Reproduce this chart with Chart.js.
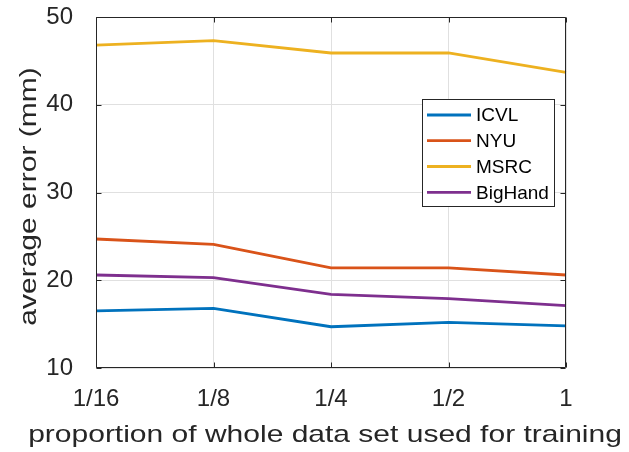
<!DOCTYPE html>
<html>
<head>
<meta charset="utf-8">
<script src="https://cdn.jsdelivr.net/npm/chart.js@4.4.1/dist/chart.umd.min.js"></script>
<style>
  html, body { margin: 0; padding: 0; background: #ffffff; }
  #c { display: block; }
</style>
</head>
<body>
<canvas id="c" width="629" height="452"></canvas>
<script>
// ---- data ----
const categories = ['1/16', '1/8', '1/4', '1/2', '1'];
const seriesNames = ['ICVL', 'NYU', 'MSRC', 'BigHand'];
const icvl    = [16.5, 16.8, 14.7, 15.2, 14.8];
const nyu     = [24.7, 24.1, 21.4, 21.4, 20.6];
const msrc    = [46.8, 47.3, 45.9, 45.9, 43.7];
const bighand = [20.6, 20.3, 18.4, 17.9, 17.1];
const yTicks  = [10, 20, 30, 40, 50];
const xTitle = 'proportion of whole data set used for training';
const yTitle = 'average error (mm)';

const seriesValues = [icvl, nyu, msrc, bighand];
const seriesColors = ['#0072BD', '#D95319', '#EDB120', '#7E2F8E'];

const FONT = '"Liberation Sans", Arial, Helvetica, sans-serif';
const AXIS_COLOR = '#262626';
const GRID_COLOR = '#e0e0e0';

const datasets = seriesNames.map((name, i) => ({
  label: name,
  data: seriesValues[i],
  borderColor: seriesColors[i],
  backgroundColor: seriesColors[i],
  borderWidth: 2.8,
  pointRadius: 0,
  tension: 0,
  fill: false
}));

// box, inward tick marks, stretched axis titles and in-plot legend
const decorPlugin = {
  id: 'decor',
  afterDatasetsDraw(chart) {
    const ctx = chart.ctx;
    const a = chart.chartArea;
    const xs = chart.scales.x, ys = chart.scales.y;
    const L = Math.round(a.left) + 0.5, R = Math.round(a.right) - 0.5;
    const T = Math.round(a.top) + 0.5, B = Math.round(a.bottom) - 0.5;
    const tl = 5;
    ctx.save();
    ctx.strokeStyle = AXIS_COLOR;
    ctx.lineWidth = 1;
    ctx.beginPath();
    ctx.rect(L, T, R - L, B - T);
    xs.ticks.forEach((t, i) => {
      const px = Math.round(xs.getPixelForTick(i)) + 0.5;
      ctx.moveTo(px, B); ctx.lineTo(px, B - tl);
      ctx.moveTo(px, T); ctx.lineTo(px, T + tl);
    });
    ys.ticks.forEach((t) => {
      const py = Math.round(ys.getPixelForValue(t.value)) + 0.5;
      ctx.moveTo(L, py); ctx.lineTo(L + tl, py);
      ctx.moveTo(R, py); ctx.lineTo(R - tl, py);
    });
    ctx.stroke();

    // axis titles (horizontally stretched text, as in the reference)
    ctx.fillStyle = AXIS_COLOR;
    ctx.font = '24px ' + FONT;
    ctx.textAlign = 'center';
    ctx.textBaseline = 'alphabetic';
    const stretch = 1.25;
    ctx.save();
    ctx.translate((a.left + a.right) / 2 - 6, 442);
    ctx.scale(stretch, 1);
    ctx.fillText(xTitle, 0, 0);
    ctx.restore();
    ctx.save();
    ctx.translate(36, (a.top + a.bottom) / 2 + 4);
    ctx.rotate(-Math.PI / 2);
    ctx.scale(stretch, 1);
    ctx.fillText(yTitle, 0, 0);
    ctx.restore();

    // legend box
    const bx = 422.5, by = 99.5, bw = 132, bh = 107;
    ctx.fillStyle = '#ffffff';
    ctx.fillRect(bx, by, bw, bh);
    ctx.strokeStyle = AXIS_COLOR;
    ctx.lineWidth = 1;
    ctx.strokeRect(bx, by, bw, bh);
    const rows = [115, 140.7, 166.5, 192.3];
    ctx.font = '19px ' + FONT;
    ctx.textAlign = 'left';
    ctx.textBaseline = 'middle';
    chart.data.datasets.forEach((ds, i) => {
      const y = rows[i];
      ctx.strokeStyle = ds.borderColor;
      ctx.lineWidth = 2.8;
      ctx.beginPath();
      ctx.moveTo(427, y); ctx.lineTo(471, y);
      ctx.stroke();
      ctx.fillStyle = '#000000';
      ctx.fillText(ds.label, 476, y + 1);
    });
    ctx.restore();
  }
};

new Chart(document.getElementById('c'), {
  type: 'line',
  data: { labels: categories, datasets },
  options: {
    responsive: false,
    animation: false,
    devicePixelRatio: 1,
    layout: { padding: { top: 17, right: 63, left: 0, bottom: 0 } },
    plugins: { legend: { display: false }, tooltip: { enabled: false } },
    scales: {
      x: {
        type: 'category',
        offset: false,
        grid: { color: GRID_COLOR, drawTicks: false, lineWidth: 1 },
        border: { display: false },
        ticks: { color: AXIS_COLOR, font: { family: FONT, size: 24 }, padding: 17, maxRotation: 0, autoSkip: false },
        afterFit(s) { s.height = 84; s.paddingLeft = 0; s.paddingRight = 0; }
      },
      y: {
        min: 10, max: 50,
        afterBuildTicks(s) { s.ticks = yTicks.map(v => ({ value: v })); },
        grid: { color: GRID_COLOR, drawTicks: false, lineWidth: 1 },
        border: { display: false },
        ticks: { color: AXIS_COLOR, font: { family: FONT, size: 24 }, padding: 23 },
        afterFit(s) { s.width = 96; s.paddingTop = 0; s.paddingBottom = 0; }
      }
    }
  },
  plugins: [decorPlugin]
});
</script>
</body>
</html>
